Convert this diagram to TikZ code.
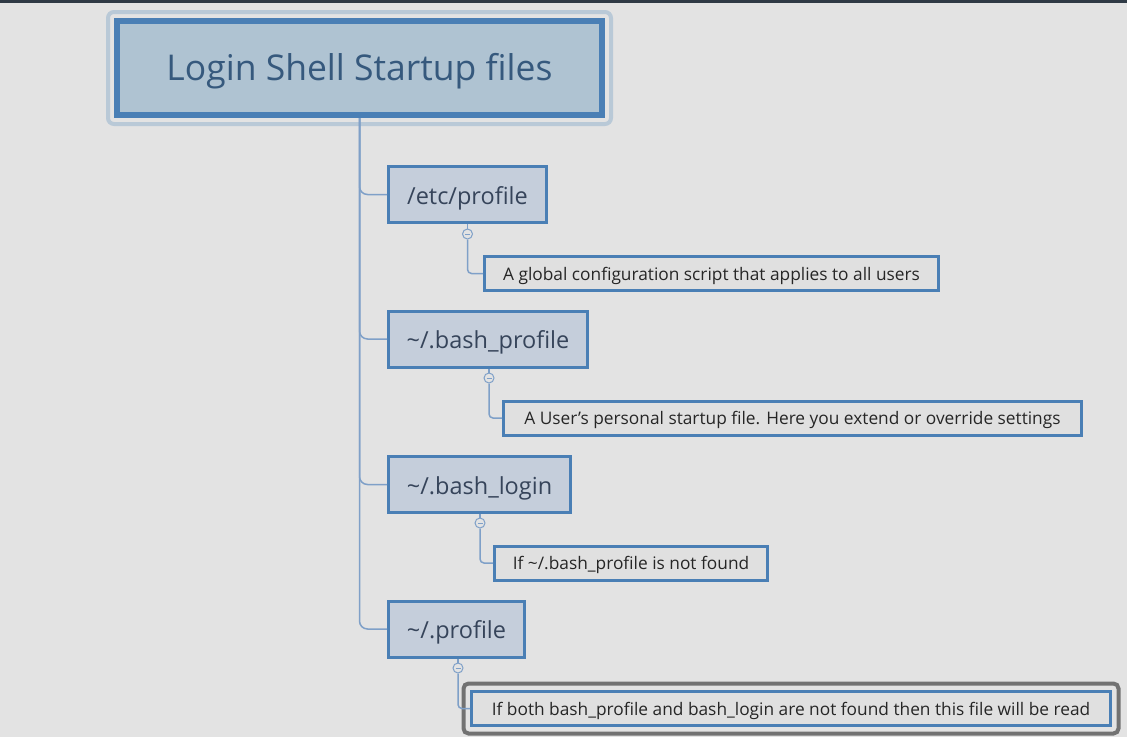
\documentclass[tikz,border=0pt]{standalone}
\usepackage{fontspec}
\setmainfont{Open Sans}
\definecolor{bgcol}{HTML}{E3E3E3}
\definecolor{barcol}{HTML}{2F3A45}
\definecolor{bluebd}{HTML}{4A7FB5}
\definecolor{titlefill}{HTML}{AFC3D2}
\definecolor{titletext}{HTML}{36597D}
\definecolor{glowcol}{HTML}{B9C9D7}
\definecolor{filefill}{HTML}{C5CEDB}
\definecolor{filetext}{HTML}{36445A}
\definecolor{notefill}{HTML}{E0E0E0}
\definecolor{notetext}{HTML}{262626}
\definecolor{linkcol}{HTML}{7FA0C8}
\definecolor{selcol}{HTML}{727272}
\begin{document}
\begin{tikzpicture}[x=1pt,y=-1pt]
        		\tikzstyle{topic}=[rectangle,line width=6pt,draw=bluebd,fill=titlefill,text=titletext,font=\fontsize{35.5}{40}\selectfont,minimum width=485pt,minimum height=94pt,inner sep=0pt,text height=33pt,text depth=9pt]
        		\tikzstyle{file}=[rectangle,line width=3pt,draw=bluebd,fill=filefill,text=filetext,font=\fontsize{23.5}{28}\selectfont,minimum height=56pt,inner sep=0pt,text height=25pt,text depth=6pt]
        		\tikzstyle{note}=[rectangle,line width=3pt,draw=bluebd,fill=notefill,text=notetext,font=\fontsize{17.3}{20}\selectfont,minimum height=34pt,inner sep=0pt,text height=17.5pt,text depth=4.5pt]
        		\tikzstyle{fold}=[circle,line width=1pt,draw=linkcol,fill=bgcol,minimum size=10pt,inner sep=0pt,path picture={\draw[linkcol,line width=0.8pt] ([xshift=-2.5pt]path picture bounding box.center) -- ([xshift=2.5pt]path picture bounding box.center);}]
        		\tikzstyle{link}=[draw=linkcol,line width=1.5pt,rounded corners=8pt]
        		\tikzstyle{sublink}=[draw=linkcol,line width=1.5pt,rounded corners=4pt]
        		\fill[bgcol] (0,0) rectangle (1127,737);
        		\useasboundingbox (0,0) rectangle (1127,737);
        		\fill[barcol] (0,0) rectangle (1127,2.5);
       			\begin{scope}
			        \node [topic] (title) at (359.5,68) {Login Shell Startup files};
			        \draw[glowcol,line width=4pt,rounded corners=6pt] ([shift={(-6,-6)}]title.north west) rectangle ([shift={(6,6)}]title.south east);
			        \node [file,minimum width=158pt] (etc) at (467.5,194.5) {/etc/profile};
			        \node [file,minimum width=199pt] (bprof) at (488,339) {\textasciitilde/.bash\_profile};
			        \node [file,minimum width=182pt] (blog) at (479.5,484.5) {\textasciitilde/.bash\_login};
			        \node [file,minimum width=136pt] (prof) at (456.5,629) {\textasciitilde/.profile};
			        \node [note,minimum width=454pt] (etcnote) at (711.5,273.5) {A global configuration script that applies to all users};
			        \node [note,minimum width=578pt] (bprofnote) at (792.5,418) {A User's personal startup file. Here you extend or override settings};
			        \node [note,minimum width=273pt] (blognote) at (631,563) {If \textasciitilde/.bash\_profile is not found};
			        \node [note,minimum width=639pt] (profnote) at (791,708.5) {If both bash\_profile and bash\_login are not found then this file will be read};
			        \draw[selcol,line width=4pt,rounded corners=5pt] ([shift={(-6.5,-6.5)}]profnote.north west) rectangle ([shift={(6.5,6.5)}]profnote.south east);
			        \node [fold] (etcfold) at (467.5,234) {};
			        \node [fold] (bproffold) at (489,378) {};
			        \node [fold] (blogfold) at (480,523) {};
			        \node [fold] (proffold) at (458,668) {};
			        \path[link] (title.south) |- (etc.west);
			        \path[link] (title.south) |- (bprof.west);
			        \path[link] (title.south) |- (blog.west);
			        \path[link] (title.south) |- (prof.west);
			        \path[sublink] (etc.south) -- (etcfold);
			        \path[sublink] (bprof.south -| bproffold) -- (bproffold);
			        \path[sublink] (blog.south -| blogfold) -- (blogfold);
			        \path[sublink] (prof.south -| proffold) -- (proffold);
			        \path[sublink] (etcfold.south) |- (etcnote.west);
			        \path[sublink] (bproffold.south) |- (bprofnote.west);
			        \path[sublink] (blogfold.south) |- (blognote.west);
			        \path[sublink] (proffold.south) |- (profnote.west);
			    \end{scope}
     		\end{tikzpicture}
\end{document}
